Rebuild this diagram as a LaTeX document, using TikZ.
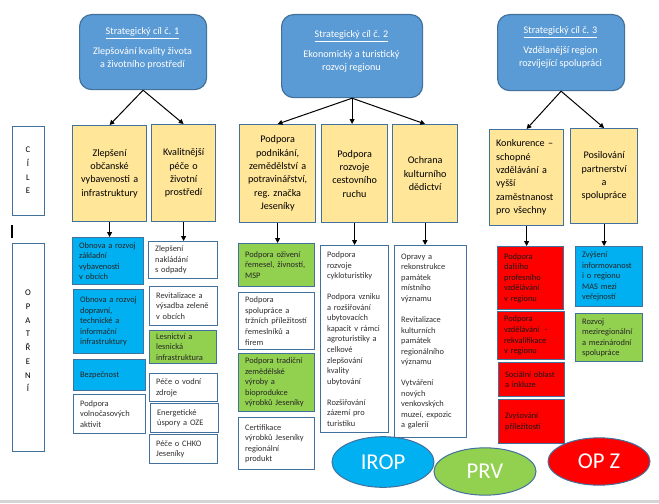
\documentclass[tikz,border=0pt]{standalone}
\usepackage{fontspec}
\setmainfont{Carlito}
\usetikzlibrary{arrows.meta,shapes.geometric}
\definecolor{topfill}{HTML}{5B9BD5}
\definecolor{edge}{HTML}{41719C}
\definecolor{goalfill}{HTML}{FFE699}
\definecolor{cyanfill}{HTML}{00B0F0}
\definecolor{greenfill}{HTML}{92D050}
\definecolor{redfill}{HTML}{FF0000}
\definecolor{txt}{HTML}{303030}
\definecolor{bandgray}{HTML}{D4D4D4}
\newcommand\placebox[7]{%
  \pgfmathsetlengthmacro\bw{(#5-#3)*0.75pt}%
  \pgfmathsetlengthmacro\bh{(#6-#4)*0.75pt}%
  \pgfmathsetlengthmacro\tw{(#5-#3-13)*0.75pt}%
  \node[#1, anchor=north west, minimum width=\bw, minimum height=\bh, text width=\tw] (#2) at (#3,#4) {#7};}
\tikzset{
  boxbase/.style={draw=edge, line width=0.9pt, inner sep=0pt},
  topbox/.style={boxbase, fill=topfill, rounded corners=9pt},
  toptext/.style={text=white, align=center, font=\fontsize{7.6}{9.2}\selectfont},
  goalbox/.style={boxbase, fill=goalfill, align=center, text=black, font=\fontsize{7.6}{10}\selectfont},
  goalleft/.style={goalbox, align=left},
  measbox/.style={boxbase, align=left, text=txt, font=\fontsize{6.3}{7.9}\selectfont},
  whitebox/.style={measbox, fill=white},
  cyanbox/.style={measbox, fill=cyanfill, text=black!85},
  greenbox/.style={measbox, fill=greenfill, text=black!85},
  redbox/.style={measbox, fill=redfill, text=black!90},
  sidebox/.style={boxbase, fill=white},
  sidetext/.style={align=center, text=black, font=\fontsize{6.5}{10.3}\selectfont},
  arr/.style={draw=black, line width=0.75pt, -{Triangle[length=3.6pt,width=3.6pt]}},
  fund/.style={ellipse, draw=edge, line width=0.75pt, inner sep=0pt, text=white, font=\fontsize{17}{17}\selectfont}
}
\begin{document}
\begin{tikzpicture}[x=0.75pt,y=-0.75pt]
\useasboundingbox (0,0) rectangle (659,503);
\fill[bandgray] (0,500) rectangle (659,503);

% top strategic goals
\placebox{topbox}{t1}{79}{14}{206}{89}{}
\placebox{topbox}{t2}{281}{14}{422}{97}{}
\placebox{topbox}{t3}{497}{14}{624}{90}{}
\node[toptext] (t1txt) at (142.5,48) {\underline{Strategický cíl č. 1}\\[6.3pt]Zlepšování kvality života\\a životního prostředí};
\node[toptext] (t2txt) at (351.5,51) {\underline{Strategický cíl č. 2}\\[6.3pt]Ekonomický a turistický\\rozvoj regionu};
\node[toptext] (t3txt) at (560.5,47) {\underline{Strategický cíl č. 3}\\[6.3pt]Vzdělanější region\\rozvíjející spolupráci};

% side labels
\placebox{sidebox}{cile}{12}{126}{44}{215}{}
\node[sidetext] (ciletxt) at (28,170.5) {C\\Í\\L\\E};
\placebox{sidebox}{opatr}{12}{243}{44}{451}{}
\node[sidetext] (opatrtxt) at (28,341) {O\\P\\A\\T\\Ř\\E\\N\\Í};
\coordinate (bara) at (12,225);
\coordinate (barb) at (12,238);
\draw[black, line width=0.8pt] (bara) -- (barb);

% goals
\placebox{goalbox}{g1}{72}{125}{146}{221}{Zlepšení\\občanské\\vybavenosti~a\\infrastruktury}
\placebox{goalbox}{g2}{151}{124}{215}{221}{Kvalitnější\\péče~o\\životní\\prostředí}
\placebox{goalbox}{g3}{239}{124}{315}{222}{Podpora\\podnikání,\\zemědělství~a\\potravinářství,\\reg.~značka\\Jeseníky}
\placebox{goalbox}{g4}{321}{124}{387}{222}{Podpora\\rozvoje\\cestovního\\ruchu}
\placebox{goalbox}{g5}{392}{124}{457}{222}{Ochrana\\kulturního\\dědictví}
\placebox{goalleft}{g6}{489}{129}{563}{225}{Konkurence~–\\schopné\\vzdělávání~a\\vyšší\\zaměstnanost\\pro~všechny}
\placebox{goalbox}{g7}{570}{128}{637}{223}{Posilování\\partnerství\\a\\spolupráce}

% measures column 1
\placebox{cyanbox}{m1a}{72}{237}{143}{284}{Obnova~a~rozvoj\\základní\\vybavenosti\\v~obcích}
\placebox{cyanbox}{m1b}{73}{289}{143}{353}{Obnova~a~rozvoj\\dopravní,\\technické~a\\informační\\infrastruktury}
\placebox{cyanbox}{m1c}{73}{359}{145}{390}{Bezpečnost\\[4pt]}
\placebox{whitebox}{m1d}{73}{394}{145}{433}{Podpora\\volnočasových\\aktivit}
% column 2
\placebox{whitebox}{m2a}{148}{241}{217}{278}{Zlepšení\\nakládání\\s~odpady}
\placebox{whitebox}{m2b}{149}{286}{217}{325}{Revitalizace~a\\výsadba~zeleně\\v~obcích}
\placebox{greenbox}{m2c}{149}{330}{216}{363}{Lesnictví~a\\lesnická\\infrastruktura}
\placebox{whitebox}{m2d}{149}{373}{217}{401}{Péče~o~vodní\\zdroje}
\placebox{whitebox}{m2e}{150}{403}{218}{432}{Energetické\\úspory~a~OZE}
\placebox{whitebox}{m2f}{149}{434}{217}{463}{Péče~o~CHKO\\Jeseníky}
% column 3
\placebox{greenbox}{m3a}{238}{243}{314}{286}{Podpora~oživení\\řemesel,~živností,\\MSP}
\placebox{whitebox}{m3b}{238}{292}{314}{349}{Podpora\\spolupráce~a\\tržních~příležitostí\\řemeslníků~a\\firem}
\placebox{greenbox}{m3c}{238}{353}{314}{411}{Podpora~tradiční\\zemědělské\\výroby~a\\bioprodukce\\výrobků~Jeseníky}
\placebox{whitebox}{m3d}{238}{417}{314}{469}{Certifikace\\výrobků~Jeseníky\\regionální\\produkt}
% column 4
\placebox{whitebox}{m4}{320}{245}{388}{432}{Podpora\\rozvoje\\cykloturistiky\\[7.9pt]Podpora~vzniku\\a~rozšiřování\\ubytovacích\\kapacit~v~rámci\\agroturistiky~a\\celkové\\zlepšování\\kvality\\ubytování\\[7.9pt]Rozšiřování\\zázemí~pro\\turistiku}
% column 5
\placebox{whitebox}{m5}{394}{245}{466}{437}{Opravy~a\\rekonstrukce\\památek\\místního\\významu\\[7.9pt]Revitalizace\\kulturních\\památek\\regionálního\\významu\\[7.9pt]Vytváření\\nových\\venkovských\\muzeí,~expozic\\a~galerií}
% column 6
\placebox{redbox}{m6a}{497}{246}{563}{309}{Podpora\\dalšího\\profesního\\vzdělávání\\v~regionu}
\placebox{redbox}{m6b}{497}{311}{564}{359}{Podpora\\vzdělávání~~-\\rekvalifikace\\v~regionu}
\placebox{redbox}{m6c}{498}{362}{564}{396}{Sociální~oblast\\a~inkluze}
\placebox{redbox}{m6d}{498}{399}{564}{443}{Zvyšování\\příležitostí\\[6pt]}
% column 7
\placebox{cyanbox}{m7a}{575}{246}{642}{306}{Zvýšení\\informovanost\\i~o~regionu\\MAS~mezi\\veřejností}
\placebox{greenbox}{m7b}{575}{313}{642}{361}{Rozvoj\\meziregionální\\a~mezinárodní\\spolupráce}

% arrows top -> goals
\draw[arr] (t1.south) -- (g1.north);
\draw[arr] (t1.south) -- (g2.north);
\draw[arr] (t2.south) -- (g3.north);
\draw[arr] (t2.south) -- (t2.south |- g4.north);
\draw[arr] (t2.south) -- (g5.north);
\draw[arr] (t3.south) -- (g6.north);
\draw[arr] (t3.south) -- (g7.north);
% arrows goals -> measures
\draw[arr] (g1.south) -- (g1.south |- m1a.north);
\draw[arr] (g2.south) -- (g2.south |- m2a.north);
\draw[arr] (g3.south) -- (g3.south |- m3a.north);
\draw[arr] (g4.south) -- (g4.south |- m4.north);
\draw[arr] (g5.south) -- (g5.south |- m5.north);
\draw[arr] (g6.south) -- (g6.south |- m6a.north);
\draw[arr] (g7.south) -- (g7.south |- m7a.north);

% funds
\node[fund, fill=cyanfill, minimum width=76.5pt, minimum height=38pt] (irop) at (383,462) {IROP};
\node[fund, fill=greenfill, minimum width=76.5pt, minimum height=35.5pt] (prv) at (485,471.5) {PRV};
\node[fund, fill=redfill, minimum width=76.5pt, minimum height=35.5pt] (opz) at (599,461.5) {OP Z};
\end{tikzpicture}
\end{document}
